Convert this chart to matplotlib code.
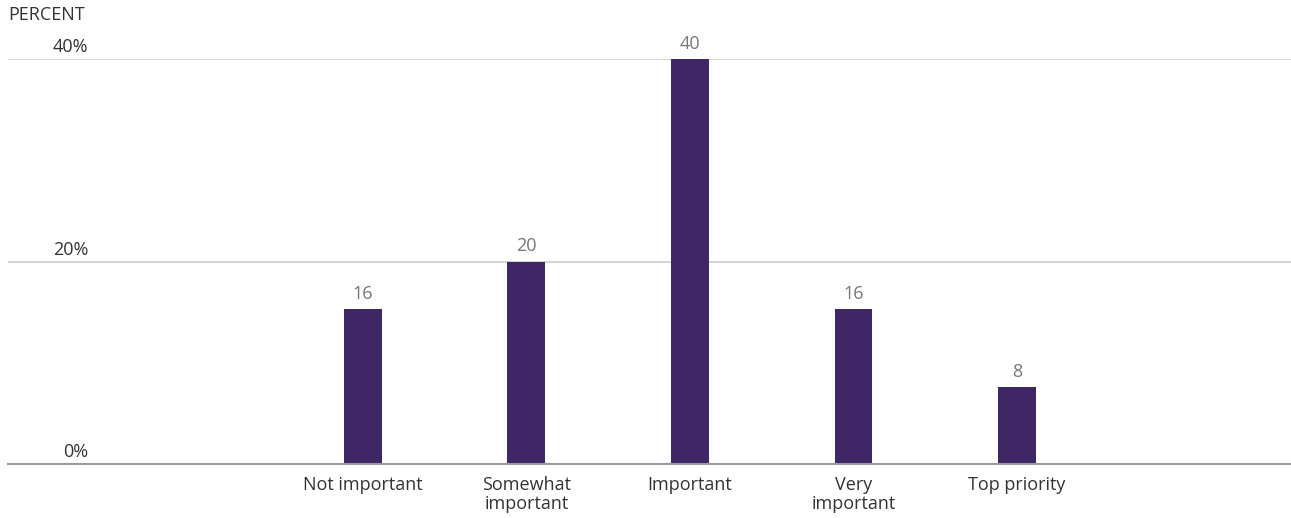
import numpy as np
import matplotlib
matplotlib.use("Agg")
import matplotlib.pyplot as plt

plt.rcParams['font.family'] = ['Open Sans', 'DejaVu Sans']

categories = ["Not important", "Somewhat\nimportant", "Important", "Very\nimportant", "Top priority"]
heights = [15.3, 20, 40, 15.3, 7.6]      # bar heights as drawn
value_labels = ["16", "20", "40", "16", "8"]  # labels printed above bars
yticks = [0, 20, 40]
ytick_labels = ["0%", "20%", "40%"]

bar_color = "#3f2766"

fig = plt.figure(figsize=(12.91, 5.18), dpi=100)
ax = fig.add_axes([8/1291, 54/518, 1283/1291, 405/518])

x = np.arange(len(categories))
bars = ax.bar(x, heights, width=0.232, color=bar_color, zorder=3)

for b, lab in zip(bars, value_labels):
    ax.annotate(lab, (b.get_x() + b.get_width()/2, b.get_height()),
                xytext=(0, 4.5), textcoords="offset points",
                ha="center", va="bottom", fontsize=13, color="#777777")

ax.set_xlim(-2.171, 5.676)
ax.set_ylim(0, 40)

ax.set_xticks(x)
ax.set_xticklabels(categories, fontsize=13, color="#333333", linespacing=1.08)
ax.tick_params(axis="x", length=0, pad=8.5)
ax.set_yticks([])

for t, lab in zip(yticks, ytick_labels):
    if t > 0:
        ax.axhline(t, color="#d6d6d6", lw=1.5, zorder=1)
    ax.annotate(lab, (0, t), xycoords=("axes fraction", "data"),
                xytext=(58, 2), textcoords="offset points",
                ha="right", va="bottom", fontsize=13, color="#333333")

for s in ["top", "right", "left"]:
    ax.spines[s].set_visible(False)
ax.spines["bottom"].set_color("#999999")
ax.spines["bottom"].set_linewidth(1.5)
ax.spines["bottom"].set_zorder(4)

fig.text(8/1291, 1 - 6/518, "PERCENT", ha="left", va="top", fontsize=13, color="#333333")

fig.savefig("out.png", dpi=100)
